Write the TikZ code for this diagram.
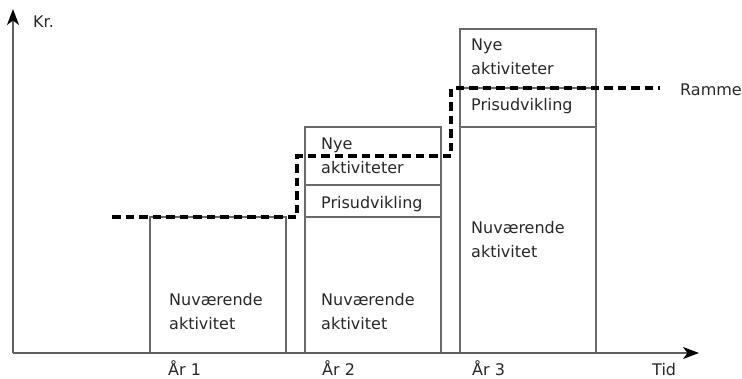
\documentclass[tikz,border=0pt]{standalone}
\usepackage{fontspec}
\setmainfont{DejaVu Sans}
\usetikzlibrary{arrows.meta}
\definecolor{axisgray}{RGB}{95,95,95}
\definecolor{boxgray}{RGB}{105,105,105}
\definecolor{txt}{RGB}{40,40,40}

\begin{document}
\begin{tikzpicture}[x=1pt, y=-1pt,
  bar/.style={draw=boxgray, line width=1.1pt},
  lbl/.style={font=\fontsize{16}{24}\selectfont, text=txt, anchor=base west,
              inner sep=0pt, align=left},
  axis/.style={draw=axisgray, line width=1.5pt,
               -{Stealth[length=16pt, width=12pt, inset=4.5pt, color=black]}},
  ramme/.style={draw=black, line width=3.2pt, dash pattern=on 8.5pt off 5pt,
                line join=miter},
]
  \useasboundingbox (0,0) rectangle (742,378);

  % akser
  \coordinate (O) at (13,353);
  \coordinate (ytop) at (13,9);
  \coordinate (xend) at (699,353);

  % søjler: venstre kant / top
  \foreach \i/\xl/\top in {1/150/217, 2/305/127, 3/460/29}{
    \draw[bar] (\xl,353) rectangle (\xl+136,\top);
  }
  \draw[bar] (305,185) -- (441,185);
  \draw[bar] (305,217) -- (441,217);
  \draw[bar] (460,88) -- (596,88);
  \draw[bar] (460,127) -- (596,127);

  \draw[axis] (O) -- (ytop);
  \draw[axis] (O) -- (xend);

  % ramme
  \coordinate (r0) at (112,217);
  \coordinate (r1) at (297,156);
  \coordinate (r2) at (451,88);
  \coordinate (r3) at (660,88);
  \draw[ramme] (r0) -| (r1) -| (r2) -- (r3);

  % tekster (base = sidste linje)
  \node[lbl] (kr) at (33,27) {Kr.};
  \node[lbl] (ramme) at (680,95) {Ramme};
  \node[lbl] (tid) at (652,375) {Tid};
  \foreach \i/\xt in {1/168, 2/322, 3/472}{
    \node[lbl] (aar\i) at (\xt,375) {År \i};
  }
  \node[lbl] (nu1) at (169,329) {Nuværende\\aktivitet};
  \node[lbl] (nu2) at (321,329) {Nuværende\\aktivitet};
  \node[lbl] (nye2) at (321,173) {Nye\\aktiviteter};
  \node[lbl] (pris2) at (321,208) {Prisudvikling};
  \node[lbl] (nu3) at (471,257) {Nuværende\\aktivitet};
  \node[lbl] (nye3) at (471,74) {Nye\\aktiviteter};
  \node[lbl] (pris3) at (471,110) {Prisudvikling};
\end{tikzpicture}
\end{document}
